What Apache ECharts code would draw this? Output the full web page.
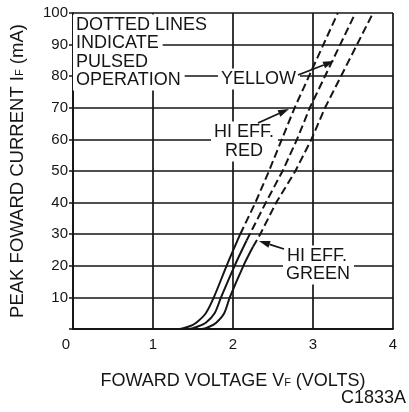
<!DOCTYPE html>
<html>
<head>
<meta charset="utf-8">
<script src="https://cdn.jsdelivr.net/npm/echarts@6/dist/echarts.min.js"></script>
<style>
  html, body { margin: 0; padding: 0; background: #fff; }
  #chart { width: 409px; height: 412px; }
</style>
</head>
<body>
<div id="chart"></div>
<script>
  // forward voltage (V) vs peak forward current (mA)
  var redSolid = [[1.20, 0], [1.33, 0], [1.45, 0.8], [1.54, 2], [1.66, 5], [1.76, 10], [1.92, 20], [2.09, 30]]
  var redPulsed = [[2.09, 30], [2.28, 40], [2.45, 50], [2.61, 60], [2.77, 70], [2.95, 80], [3.13, 90], [3.31, 100]]
  var yellowSolid = [[1.30, 0], [1.45, 0], [1.56, 0.8], [1.66, 2], [1.77, 5], [1.85, 10], [2.02, 20], [2.17, 28]]
  var yellowPulsed = [[2.17, 28], [2.41, 40], [2.62, 50], [2.80, 60], [2.96, 70], [3.15, 80], [3.34, 90], [3.53, 100]]
  var greenSolid = [[1.45, 0], [1.61, 0], [1.71, 0.8], [1.79, 2], [1.89, 5], [1.96, 10], [2.13, 20], [2.25, 26]]
  var greenPulsed = [[2.25, 26], [2.34, 30], [2.54, 40], [2.78, 50], [2.98, 60], [3.15, 70], [3.35, 80], [3.55, 90], [3.75, 100]]

  var xTicks = [0, 1, 2, 3, 4]
  var yTicks = [0, 10, 20, 30, 40, 50, 60, 70, 80, 90, 100]

  var ink = '#151515'
  var font = '"Liberation Sans", Arial, sans-serif'

  var myChart = echarts.init(document.getElementById('chart'))

  function curve(name, data, dashed) {
    return {
      name: name,
      type: 'line',
      data: data,
      showSymbol: false,
      smooth: dashed ? false : 0.3,
      silent: true,
      lineStyle: { color: ink, width: 2, type: dashed ? [8, 4] : 'solid' },
      z: 3
    }
  }

  // text with white box so the grid lines stop at it
  function label(text, x, y, padRight) {
    return {
      type: 'text', x: x, y: y, z: 100,
      style: {
        text: text, font: '18px ' + font, fill: ink,
        verticalAlign: 'middle', backgroundColor: '#fff', padding: [2, padRight || 4, 1, 3]
      }
    }
  }

  // leader line with a filled arrow head at the tip
  function arrow(x1, y1, x2, y2) {
    var a = Math.atan2(y2 - y1, x2 - x1)
    var len = 11, w = 3.5
    var bx = x2 - len * Math.cos(a), by = y2 - len * Math.sin(a)
    return [{
      type: 'line', z: 100,
      shape: { x1: x1, y1: y1, x2: bx, y2: by },
      style: { stroke: ink, lineWidth: 1.8 }
    }, {
      type: 'polygon', z: 100,
      shape: { points: [[x2, y2], [bx + w * Math.sin(a), by - w * Math.cos(a)], [bx - w * Math.sin(a), by + w * Math.cos(a)]] },
      style: { fill: ink }
    }]
  }

  var graphics = [
    label('DOTTED LINES', 73, 25),
    label('INDICATE', 73, 43),
    label('PULSED', 73, 62, 10),
    label('OPERATION', 73, 80),
    label('YELLOW', 218, 79),
    label('HI EFF.', 211, 132),
    label('RED', 222, 151),
    label('HI EFF.', 284, 256),
    label('GREEN', 283, 274),
    {
      type: 'text', right: 3, top: 389, z: 100,
      style: { text: 'C1833A', font: '18px ' + font, fill: ink }
    }
  ]
  graphics = graphics.concat(arrow(298, 75, 334, 61), arrow(258, 123, 289, 109), arrow(284, 249, 259, 241))

  var option = {
    animation: false,
    grid: { left: 67, right: 16, top: 13, bottom: 83, containLabel: false },
    xAxis: {
      type: 'value',
      min: xTicks[0],
      max: xTicks[xTicks.length - 1],
      interval: 1,
      name: 'FOWARD VOLTAGE V{s|F} (VOLTS)',
      nameLocation: 'middle',
      nameGap: 43,
      nameTextStyle: {
        color: ink, fontSize: 18, fontFamily: font,
        rich: { s: { fontSize: 11, color: ink, fontFamily: font, padding: [4, 0, 0, 0] } }
      },
      axisLine: { lineStyle: { color: ink, width: 2 } },
      axisTick: { show: false },
      axisLabel: {
        color: ink, fontSize: 15, fontFamily: font, margin: 8,
        formatter: function (v) { return v === 0 ? '{z|0}' : v },
        rich: { z: { fontSize: 15, color: ink, fontFamily: font, padding: [0, 14, 0, 0] } }
      },
      splitLine: { lineStyle: { color: ink, width: 1.7 } }
    },
    yAxis: {
      type: 'value',
      min: yTicks[0],
      max: yTicks[yTicks.length - 1],
      interval: 10,
      name: 'PEAK FOWARD CURRENT I{s|F} (mA)',
      nameLocation: 'middle',
      nameGap: 46,
      nameTextStyle: {
        color: ink, fontSize: 18.5, fontFamily: font,
        rich: { s: { fontSize: 11, color: ink, fontFamily: font, padding: [4, 0, 0, 0] } }
      },
      axisLine: { lineStyle: { color: ink, width: 1.7 } },
      axisTick: { show: true, length: 4, lineStyle: { color: ink, width: 1.5 } },
      axisLabel: {
        color: ink, fontSize: 15, fontFamily: font, margin: 5,
        formatter: function (v) { return v === 0 ? '' : v }
      },
      splitLine: { lineStyle: { color: ink, width: 1.7 } }
    },
    series: [
      curve('HI EFF. RED', redSolid, false),
      curve('HI EFF. RED pulsed', redPulsed, true),
      curve('YELLOW', yellowSolid, false),
      curve('YELLOW pulsed', yellowPulsed, true),
      curve('HI EFF. GREEN', greenSolid, false),
      curve('HI EFF. GREEN pulsed', greenPulsed, true)
    ],
    graphic: graphics
  }
  myChart.setOption(option, true)
</script>
</body>
</html>
